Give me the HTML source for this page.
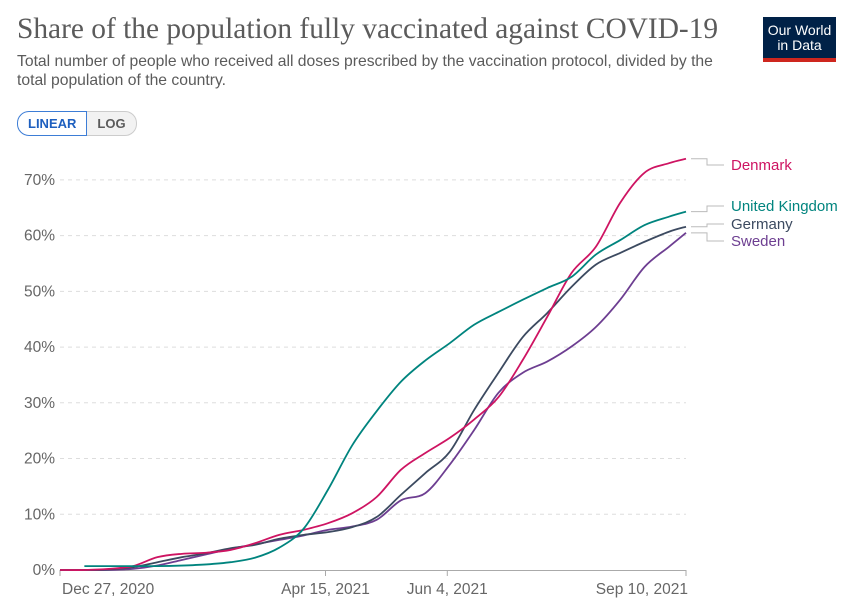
<!DOCTYPE html>
<html><head><meta charset="utf-8"><style>
body{margin:0;background:#fff;font-family:"Liberation Sans",sans-serif;}
#wrap{position:relative;width:850px;height:606px;overflow:hidden;}
.title{position:absolute;left:17px;top:13px;font-family:"Liberation Serif",serif;font-size:29.4px;color:#5b5b5b;white-space:nowrap;}
.sub{position:absolute;left:17px;top:52px;width:720px;font-size:15.7px;line-height:19px;color:#5b5b5b;}
.logo{position:absolute;left:763px;top:17px;width:73px;height:45px;background:#002147;color:#fff;font-size:14px;line-height:15px;text-align:center;box-sizing:border-box;padding-top:6px;border-bottom:4px solid #ce261e;}
.btns{position:absolute;left:17px;top:111px;height:25px;display:flex;font-size:13px;font-weight:bold;}
.btn{border:1px solid #ccc;padding:0 10px;line-height:23px;color:#5b5b5b;background:#f2f2f2;}
.btn.on{border:1px solid #3d7dd6;color:#1d5fbf;background:#fff;border-radius:12px 0 0 12px;}
.btn.off{border-radius:0 12px 12px 0;border-left:none;}
</style></head><body>
<div id="wrap">
<div class="title">Share of the population fully vaccinated against COVID-19</div>
<div class="sub">Total number of people who received all doses prescribed by the vaccination protocol, divided by the total population of the country.</div>
<div class="logo">Our World<br>in Data</div>
<div class="btns">
<div class="btn on">LINEAR</div>
<div class="btn off">LOG</div>
</div>
<svg id="chart" width="850" height="606" style="position:absolute;left:0;top:0"></svg>
</div>
<script>
const days=[0,10,20,30,40,50,60,70,80,90,100,110,120,130,140,150,160,170,180,190,200,210,220,230,240,250,257];
const denmark=[0,0,0.2,0.7,2.3,2.9,3.1,3.6,4.8,6.3,7.2,8.4,10.2,13.1,18,21,23.7,27,31,37.7,45.4,53.3,58,65.9,71.3,73,73.8];
const uk=[null,0.7,0.7,0.7,0.7,0.8,1.0,1.4,2.2,4,7.4,14.4,22.4,28.5,33.8,37.6,40.7,44,46.3,48.5,50.6,52.6,56.6,59.2,61.9,63.4,64.3];
const germany=[0,0,0.1,0.5,1.4,2.3,3,3.9,4.5,5.6,6.3,6.8,7.7,9.5,13.5,17.4,21.2,28.7,35.4,41.8,46.1,50.8,54.8,56.9,58.9,60.7,61.6];
const sweden=[0,0,0,0.2,0.8,1.8,2.8,3.8,4.6,5.4,6.2,7.2,7.8,9,12.5,13.8,18.9,25.1,31.8,35.4,37.4,40.1,43.6,48.5,54.4,58,60.5];
const yTicks=[0,10,20,30,40,50,60,70];
const xTickDays=[0,109,159,257];
const xTickLabels=["Dec 27, 2020","Apr 15, 2021","Jun 4, 2021","Sep 10, 2021"];
const seriesNames=["Denmark","United Kingdom","Germany","Sweden"];
const seriesColors=["#ce1462","#00847e","#3c4a60","#6d3e91"];
const labelY=[165,206,224,241];

const NS="http://www.w3.org/2000/svg";
const svg=document.getElementById('chart');
const X=d=>60+d*(626/257);
const Y=v=>570-v*5.573;
function mk(t,a){const e=document.createElementNS(NS,t);for(const k in a)e.setAttribute(k,a[k]);svg.appendChild(e);return e;}
yTicks.forEach(t=>{
  if(t>0){const g=mk('line',{x1:60,x2:686,y1:Y(t),y2:Y(t),stroke:'#ddd','stroke-dasharray':'4,4'});
  
  }
  const l=mk('text',{x:55,y:Y(t)+5,'text-anchor':'end','font-size':15.5,fill:'#666','font-family':'Liberation Sans'});
  l.textContent=t+'%';
  
  
});
const ax=mk('line',{x1:60,x2:686,y1:570.5,y2:570.5,stroke:'#aaa'});


xTickDays.forEach((d,i)=>{
  const tk=mk('line',{x1:X(d),x2:X(d),y1:570,y2:576,stroke:'#aaa'});
  
  
  const anchor=i==0?'start':(i==xTickDays.length-1?'end':'middle');
  const t=mk('text',{x:i==0?X(d)+2:(i==xTickDays.length-1?X(d)+2:X(d)),y:594,'text-anchor':anchor,'font-size':15.5,fill:'#666','font-family':'Liberation Sans'});
  t.textContent=xTickLabels[i];
  
  
});
function pathFor(vals){
  const pts=[];vals.forEach((v,i)=>{if(v!==null)pts.push([X(days[i]),Y(v)]);});
  let d='M'+pts[0][0]+','+pts[0][1];
  for(let i=0;i<pts.length-1;i++){
    const p0=pts[Math.max(0,i-1)],p1=pts[i],p2=pts[i+1],p3=pts[Math.min(pts.length-1,i+2)];
    const c1x=p1[0]+(p2[0]-p0[0])/6,c1y=p1[1]+(p2[1]-p0[1])/6;
    const c2x=p2[0]-(p3[0]-p1[0])/6,c2y=p2[1]-(p3[1]-p1[1])/6;
    d+=` C${c1x},${c1y} ${c2x},${c2y} ${p2[0]},${p2[1]}`;
  }
  return {d,end:pts[pts.length-1]};
}
const allSeries=[denmark,uk,germany,sweden];
[3,2,0,1].forEach(i=>{
  const r=pathFor(allSeries[i]);
  const p=mk('path',{d:r.d,fill:'none',stroke:seriesColors[i],'stroke-width':1.8});
  
  
  const ly=labelY[i];
  const c=mk('path',{d:`M${r.end[0]+5},${r.end[1]} H707 V${ly} H724`,fill:'none',stroke:'#bbb','stroke-width':1});
  
  
  const t=mk('text',{x:731,y:ly+5,'font-size':15,fill:seriesColors[i],'font-family':'Liberation Sans'});
  t.textContent=seriesNames[i];
  
  
});
</script>
</body></html>
